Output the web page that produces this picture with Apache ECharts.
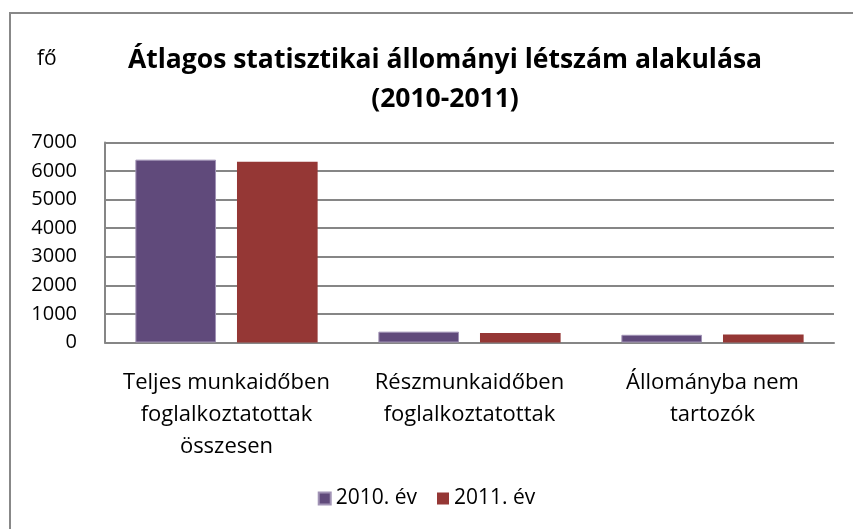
<!DOCTYPE html>
<html>
<head>
<meta charset="utf-8">
<script src="https://cdn.jsdelivr.net/npm/echarts@6/dist/echarts.min.js"></script>
<style>
    html, body { margin: 0; padding: 0; background: #fff; }
    #chart { width: 853px; height: 529px; }
</style>
</head>
<body>
<div id="chart"></div>
<script>
    var categories = [
        'Teljes munkaidőben\nfoglalkoztatottak\nösszesen',
        'Részmunkaidőben\nfoglalkoztatottak',
        'Állományba nem\ntartozók'
    ];
    var seriesNames = ['2010. év', '2011. év'];
    var values2010 = [6400, 380, 270];
    var values2011 = [6330, 330, 280];
    var yTicks = [0, 1000, 2000, 3000, 4000, 5000, 6000, 7000];

    var font = '"Open Sans", "Liberation Sans", Arial, sans-serif';
    var chart = echarts.init(document.getElementById('chart'));
    var option = {
        animation: false,
        color: ['#604A7B', '#953735'],
        textStyle: { fontFamily: font },
        title: {
            text: 'Átlagos statisztikai állományi létszám alakulása\n(2010-2011)',
            left: 440,
            top: 36,
            textAlign: 'center',
            textStyle: {
                fontFamily: font,
                fontSize: 26.5,
                fontWeight: 'bold',
                color: '#000',
                lineHeight: 39
            }
        },
        graphic: [
            {
                type: 'rect',
                shape: { x: 10, y: 13, width: 900, height: 600 },
                style: { fill: 'none', stroke: '#888', lineWidth: 2 },
                silent: true
            },
            {
                type: 'text',
                left: 37,
                top: 49,
                style: { text: 'fő', fontSize: 21, fontFamily: font, fill: '#000' }
            }
        ],
        legend: {
            data: seriesNames,
            left: 'center',
            top: 483,
            itemWidth: 12,
            itemHeight: 12,
            itemGap: 20,
            icon: 'rect',
            textStyle: { fontSize: 21, fontFamily: font, color: '#000' }
        },
        grid: {
            left: 105,
            right: 19,
            top: 142.5,
            bottom: 186.5
        },
        xAxis: {
            type: 'category',
            data: categories,
            axisTick: { show: false },
            axisLine: { lineStyle: { color: '#868686', width: 2 } },
            axisLabel: {
                interval: 0,
                margin: 24,
                fontSize: 22,
                lineHeight: 32,
                color: '#000',
                fontFamily: font
            }
        },
        yAxis: {
            type: 'value',
            min: yTicks[0],
            max: yTicks[yTicks.length - 1],
            interval: 1000,
            axisLine: { show: true, lineStyle: { color: '#868686', width: 2 } },
            axisTick: { show: false },
            axisLabel: {
                margin: 28,
                fontSize: 20,
                color: '#000',
                fontFamily: font,
                formatter: function (v) { return String(v); }
            },
            splitLine: { lineStyle: { color: '#868686', width: 2 } }
        },
        series: [
            {
                name: seriesNames[0],
                type: 'bar',
                data: values2010,
                barGap: '26%',
                barCategoryGap: '25%',
                itemStyle: { borderColor: '#a193b5', borderWidth: 1 }
            },
            {
                name: seriesNames[1],
                type: 'bar',
                data: values2011,
                barGap: '26%',
                barCategoryGap: '25%'
            }
        ]
    };
    chart.setOption(option);
</script>
</body>
</html>
